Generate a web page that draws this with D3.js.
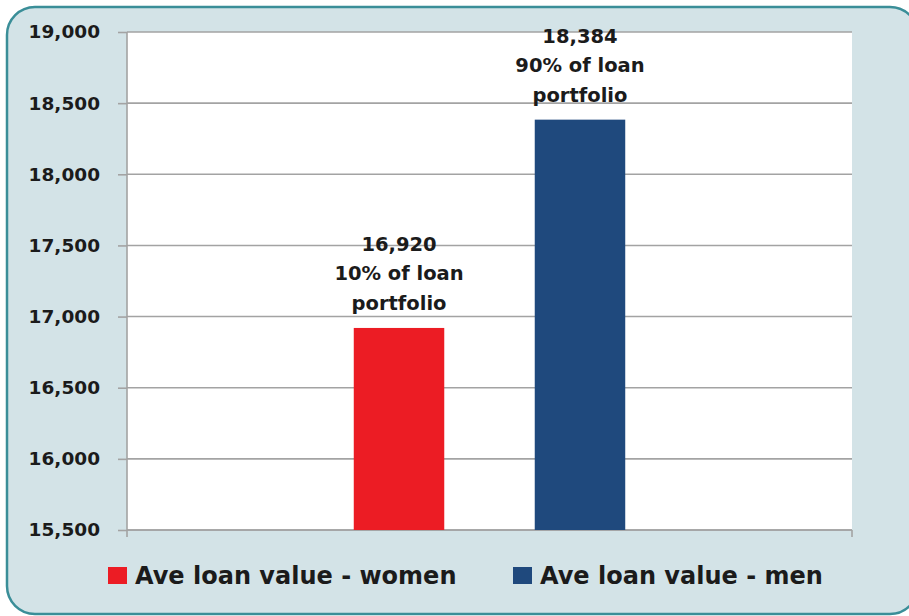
<!DOCTYPE html>
<html>
<head>
<meta charset="utf-8">
<script src="https://cdn.jsdelivr.net/npm/d3@7"></script>
<style>
  html, body { margin: 0; padding: 0; background: #ffffff; }
  svg { display: block; }
  text { font-family: "DejaVu Sans", Verdana, sans-serif; font-weight: bold; fill: #1b1b1b; }
</style>
</head>
<body>
<svg id="chart" width="909" height="616"></svg>
<script>
// Average loan value by borrower gender
const seriesNames = ["Ave loan value - women", "Ave loan value - men"];
const loanValues = [16920, 18384];
const portfolioShare = ["10% of loan", "90% of loan"];
const seriesColors = ["#ec1c24", "#1f497d"];
const yTickValues = [15500, 16000, 16500, 17000, 17500, 18000, 18500, 19000];

const W = 909, H = 616;
const margin = { left: 127, right: 57, top: 32, bottom: 86 };
const plotW = W - margin.left - margin.right;
const plotH = H - margin.top - margin.bottom;

const svg = d3.select("#chart");

// card background with rounded teal border
svg.append("rect")
  .attr("x", 7).attr("y", 7)
  .attr("width", W + 2).attr("height", H - 9)
  .attr("rx", 28).attr("ry", 28)
  .attr("fill", "#d3e3e7")
  .attr("stroke", "#3a8e98")
  .attr("stroke-width", 2.5);

const g = svg.append("g").attr("transform", `translate(${margin.left},${margin.top})`);

const y = d3.scaleLinear().domain([15500, 19000]).range([plotH, 0]);
const x = d3.scaleBand().domain(seriesNames).range([0, plotW])
  .paddingInner(0.5).paddingOuter(1.253);

// plot area
g.append("rect")
  .attr("x", 0).attr("y", 0)
  .attr("width", plotW).attr("height", plotH)
  .attr("fill", "#ffffff");

// horizontal gridlines
g.append("g")
  .selectAll("line")
  .data(yTickValues)
  .join("line")
  .attr("x1", 0).attr("x2", plotW)
  .attr("y1", d => y(d)).attr("y2", d => y(d))
  .attr("stroke", "#a3a3a3")
  .attr("stroke-width", 1.6);

// y axis
const yAxis = g.append("g")
  .call(d3.axisLeft(y).tickValues(yTickValues).tickFormat(d3.format(",")).tickSize(9).tickPadding(18));
yAxis.select(".domain").attr("stroke", "#a3a3a3").attr("stroke-width", 1.6)
  .attr("d", `M0,${plotH + 7}V0`);
yAxis.selectAll(".tick line").attr("stroke", "#a3a3a3").attr("stroke-width", 1.6);
yAxis.selectAll(".tick text")
  .style("font-family", '"DejaVu Sans", Verdana, sans-serif')
  .style("font-weight", "bold")
  .style("font-size", "18.5px")
  .attr("fill", "#1b1b1b");

// x axis baseline with end ticks
g.append("path")
  .attr("d", `M0,${plotH}H${plotW}M${plotW},${plotH}V${plotH + 7}`)
  .attr("fill", "none")
  .attr("stroke", "#a3a3a3")
  .attr("stroke-width", 1.6);

// bars
g.selectAll(".bar")
  .data(seriesNames)
  .join("rect")
  .attr("class", "bar")
  .attr("x", d => x(d))
  .attr("width", x.bandwidth())
  .attr("y", (d, i) => y(loanValues[i]))
  .attr("height", (d, i) => plotH - y(loanValues[i]))
  .attr("fill", (d, i) => seriesColors[i]);

// value labels above bars
const fmt = d3.format(",");
const lineGap = 29.5;
seriesNames.forEach((name, i) => {
  const cx = x(name) + x.bandwidth() / 2;
  const base = y(loanValues[i]) - 18;
  const lines = [fmt(loanValues[i]), portfolioShare[i], "portfolio"];
  const t = g.append("text")
    .attr("text-anchor", "middle")
    .style("font-size", "19.5px");
  lines.forEach((ln, k) => {
    t.append("tspan")
      .attr("x", cx)
      .attr("y", base - (lines.length - 1 - k) * lineGap)
      .text(ln);
  });
});

// legend
const legendX = [108, 513];
const legend = svg.append("g");
seriesNames.forEach((name, i) => {
  legend.append("rect")
    .attr("x", legendX[i]).attr("y", 567)
    .attr("width", 19).attr("height", 17)
    .attr("fill", seriesColors[i]);
  legend.append("text")
    .attr("x", legendX[i] + 27).attr("y", 584)
    .style("font-size", "24px")
    .text(name);
});
</script>
</body>
</html>
